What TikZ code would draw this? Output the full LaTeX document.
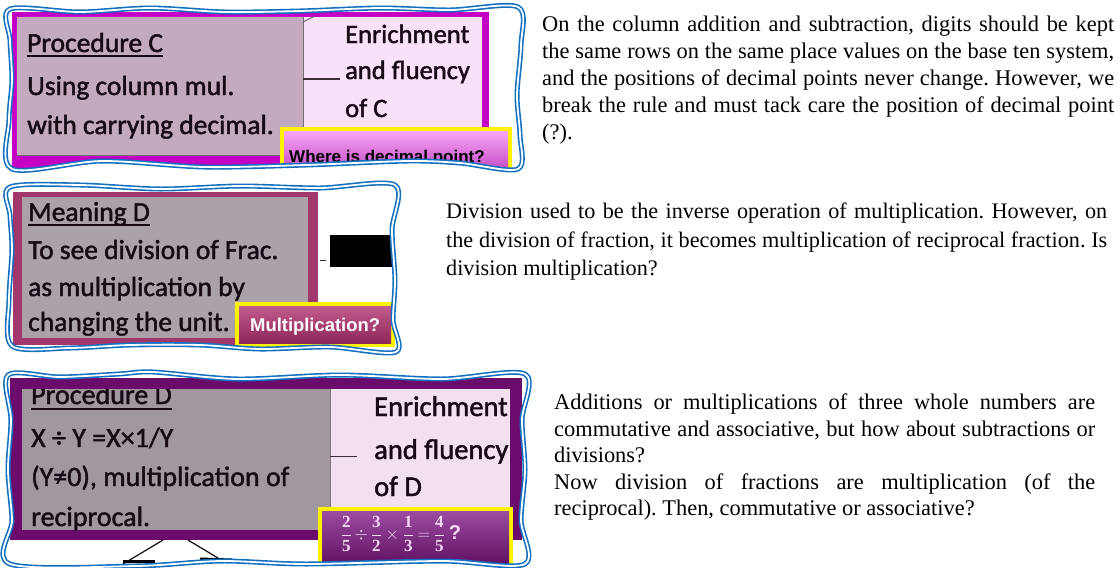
\documentclass[tikz,border=0pt]{standalone}
\usepackage{fontspec}
\setmainfont{Liberation Serif}
\newfontfamily\slidefont[FakeBold=1.6]{Carlito}
\newfontfamily\btnfont{Liberation Sans}

\definecolor{frameblue}{HTML}{1170C0}
\definecolor{inkcol}{HTML}{170A16}
\definecolor{magC}{HTML}{C400C4}
\definecolor{grayC}{HTML}{C3AABF}
\definecolor{pinkC}{HTML}{F9E2F8}
\definecolor{btnCtop}{HTML}{F7A8F7}
\definecolor{btnCbot}{HTML}{C64CC6}
\definecolor{maroonM}{HTML}{A1376A}
\definecolor{grayM}{HTML}{AAA2A8}
\definecolor{btnMtop}{HTML}{C25C8C}
\definecolor{btnMbot}{HTML}{8E2659}
\definecolor{purpD}{HTML}{6B0B6B}
\definecolor{grayD}{HTML}{A1989F}
\definecolor{pinkD}{HTML}{F1E1EF}
\definecolor{btnDtop}{HTML}{9C4CA0}
\definecolor{btnDbot}{HTML}{5A0A5C}
\definecolor{formcol}{HTML}{F6D8F6}

% wavy double-line frames around the three slide excerpts
\newcommand\waveone[1]{#1 plot[smooth cycle, tension=0.5] coordinates {(10,9) (80,12) (150,8) (225,12) (300,11) (380,8) (450,10) (518,7) (521,45) (517,95) (520,135) (518,169) (460,163) (408,161) (306,165) (204,167) (102,161) (12,169) (9,120) (12,80) (10,40)};}
\newcommand\wavetwo[1]{#1 plot[smooth cycle, tension=0.5] coordinates {(10,187) (80,185) (160,189) (240,186) (320,188) (395,185) (392,230) (395,280) (393,320) (396,352) (330,347) (260,349) (200,345) (130,345) (70,348) (12,346) (9,300) (12,250) (10,215)};}
\newcommand\wavethree[1]{#1 plot[smooth cycle, tension=0.5] coordinates {(8,375) (60,377) (119,374) (153,372) (238,379) (340,375) (442,379) (525,374) (522,420) (525,470) (521,520) (525,564) (442,561) (306,564) (221,561) (136,566) (10,564) (12,520) (8,470) (11,420)};}

\tikzset{
  bluewave/.style={draw=frameblue, line width=1.6pt, double=white, double distance=1.8pt, line join=round},
  panelbox/.style={anchor=north west, inner sep=0pt, outer sep=0pt},
  ybox/.style={panelbox, fill=yellow},
  slide/.style={font=\slidefont\fontsize{27.5}{30}\selectfont, text=inkcol, anchor=base west, inner sep=0pt},
  paraT/.style={align=justify, anchor=north west, inner sep=0pt, text=black},
  conn/.style={draw=inkcol!85, line width=1.3pt},
  uline/.style={draw=inkcol, line width=1.2pt},
  btnlabel/.style={anchor=base west, inner sep=0pt, font=\btnfont\bfseries},
}

\begin{document}
\begin{tikzpicture}[x=1pt,y=-1pt]
\useasboundingbox (0,0) rectangle (1120,568);
\fill[white] (0,0) rectangle (1120,568);

% ---------- Procedure C ----------
\begin{scope}
\waveone{\clip}
\node[panelbox, fill=magC, minimum width=477pt, minimum height=160pt] (frameC) at (12,12) {};
\node[panelbox, fill=grayC, minimum width=286pt, minimum height=138pt] (boxC) at (17,17) {};
\node[panelbox, fill=pinkC, minimum width=179pt, minimum height=141pt] (pinkCbox) at (303,17) {};
\draw[inkcol!60, line width=0.8pt] (boxC.north east) -- (boxC.south east);
\draw[inkcol!60, line width=0.8pt] (boxC.south west) -- (boxC.south east);
\draw[inkcol!70, line width=0.8pt] ([yshift=-5pt]pinkCbox.north west) -- ++(12,-6);
\node[slide] (procC) at (27,52) {Procedure C};
\draw[uline] ([yshift=-4pt]procC.base west) -- ([yshift=-4pt]procC.base east);
\node[slide] (usingC) at (27,95) {Using column mul.};
\node[slide] (withC) at (27,134) {with carrying decimal.};
\node[slide, font=\slidefont\fontsize{26.5}{30}\selectfont] (enrC) at (345,43) {Enrichment};
\node[slide, font=\slidefont\fontsize{26.5}{30}\selectfont] (fluC) at (345,79) {and fluency};
\node[slide, font=\slidefont\fontsize{26.5}{30}\selectfont] (ofC) at (345,117) {of C};
\draw[conn] (boxC.east |- fluC.base) -- ([xshift=-5pt]fluC.base west);
\node[ybox, minimum width=232pt, minimum height=46pt] (yelC) at (280,127) {};
\node[panelbox, minimum width=224pt, minimum height=38pt, top color=btnCtop, bottom color=btnCbot] (btnC) at (284,131) {};
\node[btnlabel, text=black, font=\btnfont\bfseries\fontsize{17}{17}\selectfont] (qC) at (289,162) {Where is decimal point?};
\end{scope}
\waveone{\draw[bluewave]}

% ---------- Meaning D ----------
\begin{scope}
\wavetwo{\clip}
\node[panelbox, fill=maroonM, minimum width=305pt, minimum height=153pt] (frameM) at (13,192) {};
\node[panelbox, fill=grayM, minimum width=286pt, minimum height=141pt] (boxM) at (22,197) {};
\node[panelbox, fill=black, minimum width=62pt, minimum height=32pt] (blkM) at (330,235) {};
\coordinate (dashM) at ([yshift=-9pt]blkM.west);
\draw[conn, line width=1pt] ([xshift=-10pt]dashM) -- ([xshift=-4pt]dashM);
\node[slide] (meanM) at (28,221) {Meaning D};
\draw[uline] ([yshift=-4pt]meanM.base west) -- ([yshift=-4pt]meanM.base east);
\node[slide] (seeM) at (28,259) {To see division of Frac.};
\node[slide] (asM) at (28,296) {as multiplication by};
\node[slide] (chgM) at (28,331) {changing the unit.};
\node[ybox, minimum width=160pt, minimum height=45pt] (yelM) at (235,302) {};
\node[panelbox, minimum width=152pt, minimum height=37pt, top color=btnMtop, bottom color=btnMbot] (btnM) at (239,306) {};
\node[btnlabel, text=white, font=\btnfont\bfseries\fontsize{18.4}{18}\selectfont] (qM) at (250,331) {Multiplication?};
\end{scope}
\wavetwo{\draw[bluewave]}

% ---------- Procedure D ----------
\begin{scope}
\wavethree{\clip}
\node[panelbox, fill=purpD, minimum width=512pt, minimum height=162pt] (frameD) at (10,378) {};
\node[panelbox, fill=grayD, minimum width=308pt, minimum height=142pt] (boxD) at (22,388) {};
\node[panelbox, fill=pinkD, minimum width=180pt, minimum height=130pt] (pinkDbox) at (330,388) {};
\draw[inkcol!55, line width=1pt] (boxD.north east) -- (boxD.south east);
\node[slide, font=\slidefont\fontsize{28}{30}\selectfont] (procD) at (31,404) {Procedure D};
\draw[uline] ([yshift=-5pt]procD.base west) -- ([yshift=-5pt]procD.base east);
\fill[purpD] (frameD.north west) rectangle ([yshift=-11pt]frameD.north east);
\node[slide, font=\slidefont\fontsize{28}{30}\selectfont] (eqD) at (31,447) {X ÷ Y =X×1/Y};
\node[slide, font=\slidefont\fontsize{28}{30}\selectfont] (recA) at (31,486) {(Y≠0), multiplication of};
\node[slide, font=\slidefont\fontsize{28}{30}\selectfont] (recB) at (31,526) {reciprocal.};
\node[slide, font=\slidefont\fontsize{28.5}{30}\selectfont] (enrD) at (374,416) {Enrichment};
\node[slide, font=\slidefont\fontsize{28.5}{30}\selectfont] (fluD) at (374,459) {and fluency};
\node[slide, font=\slidefont\fontsize{28.5}{30}\selectfont] (ofD) at (374,496) {of D};
\draw[conn] (boxD.east |- fluD.mid) -- ([xshift=-17pt]fluD.mid west);
\draw[inkcol, line width=1.2pt] (163,540) -- (123,564);
\draw[inkcol, line width=1.2pt] (188,540) -- (228,564);
\draw[black, line width=3pt] (123,561) -- (155,561);
\draw[black, line width=5pt] (200,560) -- (232,561);
\node[ybox, minimum width=195pt, minimum height=65pt] (yelD) at (318,507) {};
\node[panelbox, minimum width=187pt, minimum height=60pt, top color=btnDtop, bottom color=btnDbot] (btnD) at (322,511) {};
\node[inner sep=0pt, text=formcol, font=\fontsize{17}{17}\selectfont] (fracD) at (401,534)
  {$\displaystyle\frac{\mathbf{2}}{\mathbf{5}}\mkern3mu{\div}\mkern3mu\frac{\mathbf{3}}{\mathbf{2}}\mkern4mu{\times}\mkern4mu\frac{\mathbf{1}}{\mathbf{3}}\mkern4mu{=}\mkern4mu\frac{\mathbf{4}}{\mathbf{5}}$\hspace{4pt}{\btnfont\bfseries\fontsize{20}{20}\selectfont ?}};
\end{scope}
\wavethree{\draw[bluewave]}

% ---------- commentary ----------
\node[paraT, text width=572pt, font=\fontsize{22.4}{27}\selectfont] (txtC) at (542,16)
  {\frenchspacing\hyphenpenalty=10000
   On the column addition and subtraction, digits should be kept\linebreak
   the same rows on the same place values on the base ten system,\linebreak
   and the positions of decimal points never change. However, we\linebreak
   break the rule and must tack care the position of decimal point\linebreak
   (?).};
\node[paraT, text width=661pt, font=\fontsize{22.2}{28.5}\selectfont] (txtM) at (446,203)
  {\frenchspacing\hyphenpenalty=10000
   Division used to be the inverse operation of multiplication. However, on\linebreak
   the division of fraction, it becomes multiplication of reciprocal fraction. Is\linebreak
   division multiplication?};
\node[paraT, text width=541pt, font=\fontsize{22.4}{26.5}\selectfont] (txtD) at (554,394)
  {\frenchspacing\hyphenpenalty=10000
   Additions or multiplications of three whole numbers are\linebreak
   commutative and associative, but how about subtractions or\linebreak
   divisions?\\
   Now division of fractions are multiplication (of the\linebreak
   reciprocal). Then, commutative or associative?};
\end{tikzpicture}
\end{document}
